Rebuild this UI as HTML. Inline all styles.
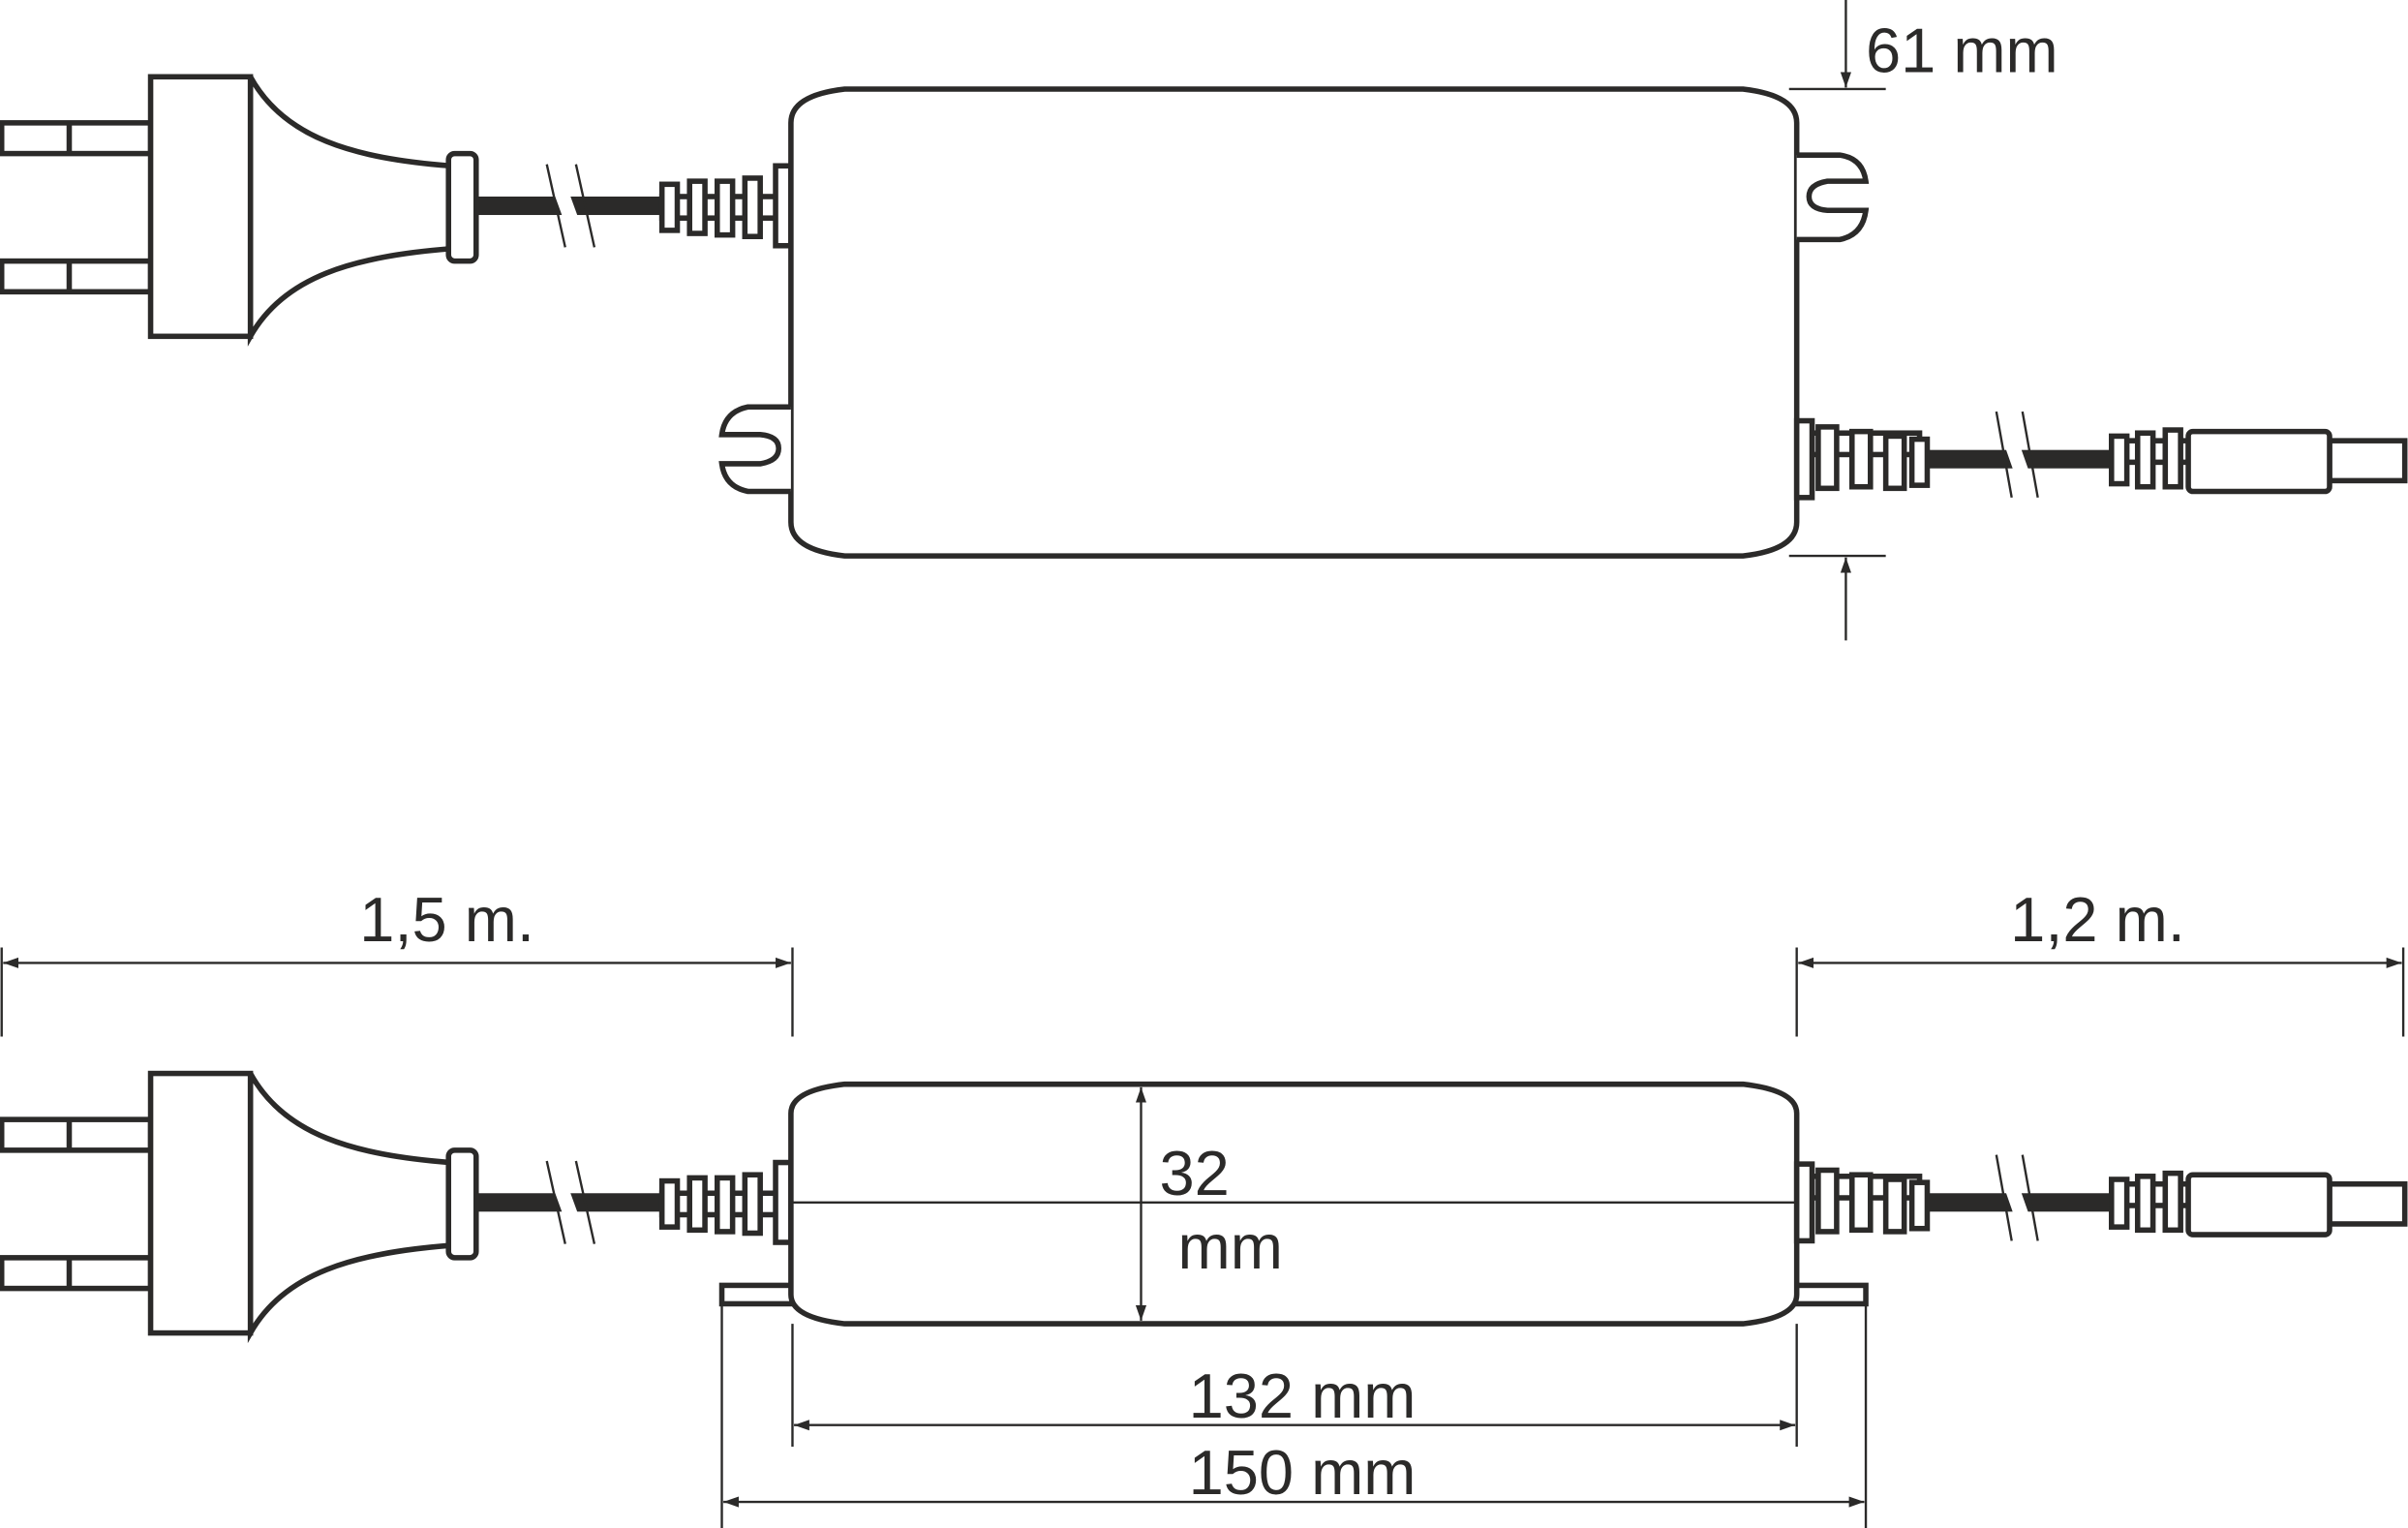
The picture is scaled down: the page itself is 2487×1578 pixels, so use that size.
<!DOCTYPE html>
<html><head><meta charset="utf-8"><style>
html,body{margin:0;padding:0;background:#fff;}
svg{display:block;}
text{font-family:"Liberation Sans",sans-serif;font-size:41px;fill:#2b2a29;}
</style></head><body>
<svg width="2487" height="1578" viewBox="0 0 1568 995" xmlns="http://www.w3.org/2000/svg">
<defs>
<marker id="ar" viewBox="0 0 10 10" refX="10" refY="5" markerWidth="10" markerHeight="10" orient="auto-start-reverse" markerUnits="userSpaceOnUse">
<path d="M0,1.5 L10,5 L0,8.5 z" fill="#2b2a29"/></marker>
<g id="plug" fill="#fff" stroke="#2b2a29" stroke-width="3.5">
<rect x="1" y="30" width="97" height="20"/><line x1="45" y1="30" x2="45" y2="50"/>
<rect x="1" y="120" width="97" height="20"/><line x1="45" y1="120" x2="45" y2="140"/>
<path d="M163,0 C185,40 230,53 293,58 L293,112 C230,117 185,130 163,169 Z"/>
<rect x="98" y="0" width="65" height="169"/>
<rect x="292" y="50" width="18" height="70" rx="4"/>
<rect x="310" y="78" width="120" height="12" fill="#2b2a29" stroke="none"/>
<polygon points="360,74 370,74 378,96 368,96" fill="#fff" stroke="none"/>
<line x1="356" y1="57" x2="368" y2="111" stroke-width="1.5"/>
<line x1="375" y1="57" x2="387" y2="111" stroke-width="1.5"/>
<rect x="431" y="78" width="75" height="14"/>
<rect x="431" y="70" width="10" height="30"/>
<rect x="449" y="68" width="10" height="34"/>
<rect x="467" y="68" width="10" height="35"/>
<rect x="485" y="66" width="10" height="38"/>
<rect x="505" y="58" width="10" height="52"/>
</g>
<g id="outcable" fill="#fff" stroke="#2b2a29" stroke-width="3.5">
<rect x="1180" y="8" width="70" height="14"/>
<rect x="1170" y="0" width="10" height="50"/>
<rect x="1184" y="4" width="12" height="40"/>
<rect x="1206" y="7" width="12" height="36"/>
<rect x="1228" y="10" width="12" height="34"/>
<rect x="1245" y="12" width="10" height="30"/>
<rect x="1255" y="19" width="120" height="12" fill="#2b2a29" stroke="none"/>
<polygon points="1305,15 1315,15 1322,35 1312,35" fill="#fff" stroke="none"/>
<line x1="1300" y1="-6" x2="1310" y2="50" stroke-width="1.5"/>
<line x1="1317" y1="-6" x2="1327" y2="50" stroke-width="1.5"/>
<rect x="1375" y="13" width="50" height="14"/>
<rect x="1375" y="10" width="10" height="31"/>
<rect x="1392" y="8" width="10" height="35"/>
<rect x="1410" y="6" width="10" height="37"/>
<rect x="1517" y="13" width="49" height="26"/>
<rect x="1425" y="7" width="92" height="39" rx="3"/>
</g>
</defs>

<use href="#plug" x="0" y="50"/>
<path d="M550,58 L1135,58 Q1170,62 1170,80 L1170,340 Q1170,358 1135,362 L550,362 Q515,358 515,340 L515,80 Q515,62 550,58 Z" fill="#fff" stroke="#2b2a29" stroke-width="3.5"/>
<path d="M1170,101 L1198,101 Q1213,103 1215,118 L1190,118 Q1178,120 1178,128 Q1178,136 1190,137 L1215,137 Q1213,153 1198,156 L1170,156" fill="#fff" stroke="#2b2a29" stroke-width="3.5"/>
<path d="M515,265 L487,265 Q472,268 470,283 L495,283 Q507,284 507,292 Q507,300 495,302 L470,302 Q472,317 487,320 L515,320" fill="#fff" stroke="#2b2a29" stroke-width="3.5"/>
<use href="#outcable" x="0" y="274"/>

<g stroke="#2b2a29" stroke-width="1.5" fill="none">
<line x1="1165" y1="58" x2="1228" y2="58"/>
<line x1="1165" y1="362" x2="1228" y2="362"/>
<line x1="1202" y1="0" x2="1202" y2="57" marker-end="url(#ar)"/>
<line x1="1202" y1="417" x2="1202" y2="363" marker-end="url(#ar)"/>
</g>
<text x="1215" y="47">61 mm</text>

<use href="#plug" x="0" y="699"/>
<rect x="470" y="837" width="745" height="12" fill="#fff" stroke="#2b2a29" stroke-width="3.5"/>
<path d="M550,706 L1135,706 Q1170,710 1170,725 L1170,843 Q1170,858 1135,862 L550,862 Q515,858 515,843 L515,725 Q515,710 550,706 Z" fill="#fff" stroke="#2b2a29" stroke-width="3.5"/>
<use href="#outcable" x="0" y="758"/>
<g stroke="#2b2a29" stroke-width="1.5" fill="none">
<line x1="515" y1="783" x2="1170" y2="783"/>
<line x1="743" y1="708" x2="743" y2="860" marker-start="url(#ar)" marker-end="url(#ar)"/>
<line x1="1" y1="617" x2="1" y2="675"/>
<line x1="516" y1="617" x2="516" y2="675"/>
<line x1="2" y1="627" x2="515" y2="627" marker-start="url(#ar)" marker-end="url(#ar)"/>
<line x1="1170" y1="617" x2="1170" y2="675"/>
<line x1="1565" y1="617" x2="1565" y2="675"/>
<line x1="1171" y1="627" x2="1564" y2="627" marker-start="url(#ar)" marker-end="url(#ar)"/>
<line x1="516" y1="862" x2="516" y2="942"/>
<line x1="1170" y1="862" x2="1170" y2="942"/>
<line x1="517" y1="928" x2="1169" y2="928" marker-start="url(#ar)" marker-end="url(#ar)"/>
<line x1="470" y1="849" x2="470" y2="995"/>
<line x1="1215" y1="849" x2="1215" y2="995"/>
<line x1="471" y1="978" x2="1214" y2="978" marker-start="url(#ar)" marker-end="url(#ar)"/>
</g>
<text x="755" y="778">32</text>
<text x="767" y="826">mm</text>
<text x="291" y="613" text-anchor="middle">1,5 m.</text>
<text x="1366" y="613" text-anchor="middle">1,2 m.</text>
<text x="848" y="923" text-anchor="middle">132 mm</text>
<text x="848" y="973" text-anchor="middle">150 mm</text>
</svg>
</body></html>
